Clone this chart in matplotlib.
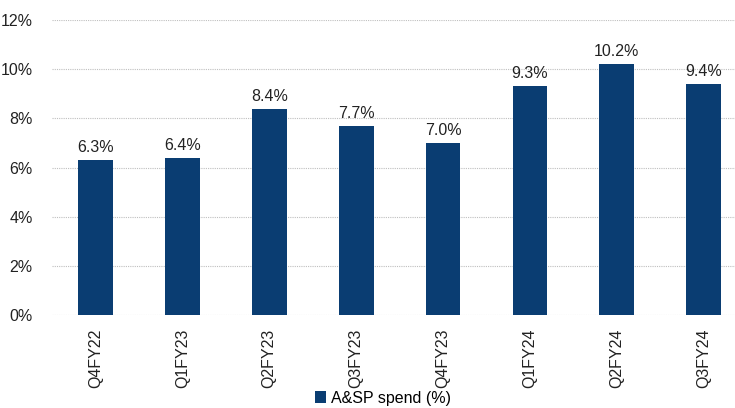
import matplotlib.pyplot as plt
import numpy as np
from matplotlib.ticker import FuncFormatter

plt.rcParams['font.family'] = ['Liberation Sans', 'DejaVu Sans']

quarters = ['Q4FY22', 'Q1FY23', 'Q2FY23', 'Q3FY23', 'Q4FY23', 'Q1FY24', 'Q2FY24', 'Q3FY24']
asp_spend = [6.3, 6.4, 8.4, 7.7, 7.0, 9.3, 10.2, 9.4]

bar_color = '#0A3D72'

fig = plt.figure(figsize=(7.35, 4.08), dpi=100)
ax = fig.add_axes([52 / 735, 93 / 408, 683 / 735, 295 / 408])

x = np.arange(len(quarters))
bars = ax.bar(x, asp_spend, width=0.40, color=bar_color, label='A&SP spend (%)', zorder=3)

for xi, v in zip(x, asp_spend):
    ax.text(xi, v + 0.2, f'{v:.1f}%', ha='center', va='bottom', fontsize=11.5, color='#222222')

ax.set_xlim(-0.5, 7.36)
ax.set_ylim(0, 12)
ax.set_yticks(np.arange(0, 13, 2))
ax.yaxis.set_major_formatter(FuncFormatter(lambda v, p: f'{v:.0f}%'))
ax.grid(axis='y', linestyle=(0, (1, 1)), color='#bfbfbf', linewidth=0.8, zorder=0)

ax.set_xticks(x)
ax.set_xticklabels(quarters, rotation=90, fontsize=11.5, color='#222222')
ax.tick_params(axis='y', labelsize=11.5, labelcolor='#222222', length=0, pad=14)
ax.tick_params(axis='x', length=0, pad=10)
for s in ax.spines.values():
    s.set_visible(False)

fig.legend(handles=[bars], labels=['A&SP spend (%)'], loc='center', bbox_to_anchor=(383 / 735, 1 - 398 / 408),
           frameon=False, fontsize=11.5, handlelength=0.7, handleheight=0.7, handletextpad=0.3)

plt.savefig('out.png', dpi=100)
